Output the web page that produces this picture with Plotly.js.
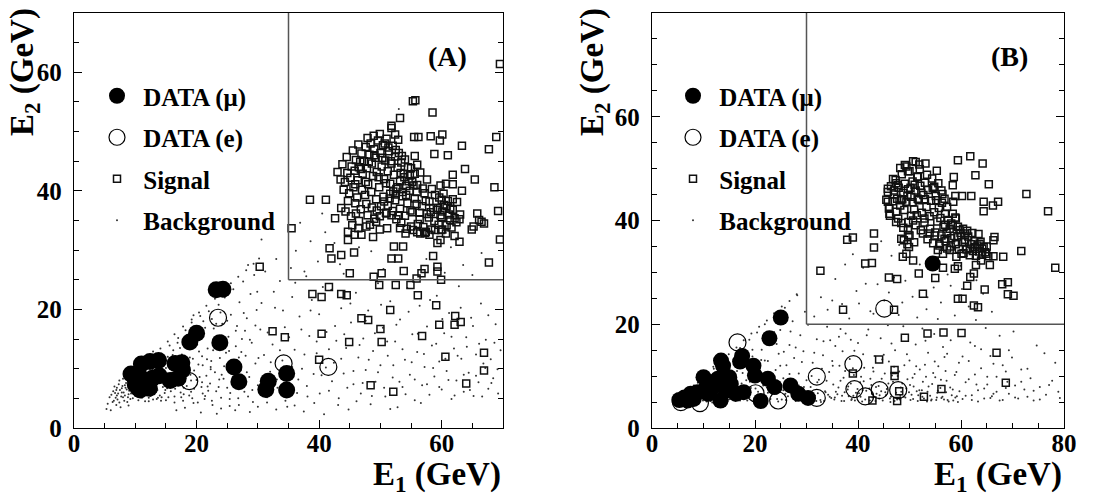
<!DOCTYPE html>
<html>
<head>
<meta charset="utf-8">
<script src="https://cdn.plot.ly/plotly-3.0.1.min.js"></script>
<style>html,body{margin:0;padding:0;background:#fff;}#chart{width:1104px;height:499px;}</style>
</head>
<body>
<div id="chart"></div>
<script>
// ---------------- Panel A data ----------------
const muA_x = [23.2,24.3,20.0,18.9,23.8,26.1,26.9,31.3,31.7,34.7,34.7,11.0,12.4,13.8,9.3,10.0,10.5,10.8,12.3,12.8,13.9,15.7,16.5,17.6,17.7,17.0,10.8,10.0,11.3];
const muA_y = [23.3,23.4,16.0,14.5,14.4,10.3,7.8,6.5,7.9,9.2,6.4,10.8,11.2,11.4,9.1,8.1,6.7,6.4,6.7,8.4,8.8,8.0,10.9,11.0,9.8,8.4,8.6,7.3,7.5];
const eA_x = [23.5,18.8,34.2,41.5];
const eA_y = [18.6,7.9,10.9,10.3];
const sigA_pts = [[35.5,33.7],[38.5,38.5],[41.1,38.5],[41.7,30.3],[42.0,28.6],[42.6,35.4],[43.6,29.2],[45.0,26.1],[45.7,29.6],[44.7,33.1],[48.9,25.5],[50.2,26.1],[49.8,24.1],[52.5,24.1],[54.9,24.1],[51.8,28.6],[52.9,28.6],[52.2,30.6],[53.7,30.6],[53.8,26.5],[55.9,25.2],[56.7,26.1],[57.2,26.8],[59.3,27.2],[59.3,26.4],[59.9,25.0],[56.1,22.4],[59.1,20.7],[59.6,17.4],[56.8,15.5],[50.2,14.5],[50.0,16.7],[51.6,19.9],[48.0,18.2],[46.9,18.5],[44.9,14.5],[44.5,22.4],[43.6,22.6],[41.6,23.8],[40.4,22.1],[38.9,22.6],[40.4,15.9],[34.4,15.3],[32.4,16.3],[30.3,27.2],[40.0,11.5],[48.4,7.2],[52.1,6.1],[60.6,12.0],[62.1,17.4],[62.2,18.9],[63.1,17.9],[64.0,7.5],[66.9,12.7],[66.9,9.7],[69.5,61.4],[58.5,53.2],[55.3,55.1],[55.7,55.3],[53.2,52.3],[51.8,51.0],[51.8,50.6],[52.4,49.5],[55.5,49.1],[56.2,49.1],[58.2,49.2],[59.7,48.5],[60.1,49.5],[63.3,47.6],[61.0,46.0],[58.8,46.2],[55.6,45.9],[68.9,49.1],[67.7,47.0],[65.4,41.9],[63.8,43.7],[61.8,42.7],[61.8,41.1],[60.7,41.2],[68.6,40.6],[63.3,40.0],[69.2,36.6],[69.5,31.8],[67.7,27.9],[65.8,36.2],[66.1,35.1],[64.9,33.5],[65.2,34.0],[66.5,34.8],[66.9,34.5],[62.9,31.4],[62.1,32.4],[62.9,35.2],[62.1,35.4],[62.5,38.1],[61.8,38.6],[61.4,37.0],[60.0,38.5],[60.8,37.4],[59.4,37.1],[59.8,35.9],[59.8,31.7],[59.3,31.2],[58.6,29.0],[58.0,32.6],[58.9,33.4],[60.1,33.5],[60.7,32.8],[56.5,32.8],[57.4,33.1],[55.3,33.4],[54.1,32.8],[53.2,33.7],[51.1,33.7],[49.9,33.5],[48.8,32.2],[46.9,32.6],[45.8,32.6],[44.7,31.7],[46.4,33.7],[47.7,34.0],[49.3,34.8],[51.0,36.2],[49.9,35.7],
[44.2,41.5],[44.6,43.0],[45.1,42.2],[45.3,44.1],[45.8,43.4],[46.0,45.2],[46.3,41.8],[46.5,44.0],[46.9,46.3],[47.1,42.9],[47.3,45.0],[47.6,47.4],[47.8,43.8],[48.0,41.1],[48.2,46.1],[48.4,48.0],[48.6,44.6],[48.8,42.5],[49.0,47.0],[49.2,45.6],[49.4,43.2],[49.6,48.5],[49.8,40.6],[50.0,46.4],[50.2,44.1],[50.4,47.7],[50.6,42.0],[50.8,45.1],[51.0,48.8],[51.2,43.3],[51.4,46.7],[51.6,41.2],[51.8,44.6],[52.0,47.6],[52.2,42.7],[52.4,45.8],[52.6,40.3],[52.8,43.9],[53.0,46.4],[53.2,41.6],[53.4,44.8],[53.6,39.8],[53.8,42.9],[54.0,45.3],[54.2,40.8],[47.0,40.2],[45.6,40.6],[44.9,39.6],[46.2,38.9],[47.5,39.3],[48.5,39.8],[49.3,38.6],[50.5,39.0],[51.5,38.7],[44.0,40.2],[43.5,41.9],[43.0,43.2],[43.8,44.5],[44.5,45.7],[45.5,46.8],[46.4,47.8],[47.9,48.9],[48.9,49.3],[49.9,49.6],[50.7,48.0],[51.3,47.3],[52.5,46.9],[53.5,45.9],[54.5,44.0],[54.8,42.6],[55.2,41.5],[55.0,43.8],[55.6,42.9],[56.0,44.4],[56.5,43.1],[46.8,43.7],[48.1,44.9],[49.7,42.3],[50.9,41.3],[52.1,39.9],[47.6,41.5],[45.9,41.1],[46.7,44.9],[49.0,46.0],[50.3,45.6],[51.7,45.0],[53.3,43.0],[52.9,48.6],[44.7,38.3],[45.9,37.9],
[51.2,37.5],[51.6,39.5],[52.0,36.6],[52.4,38.4],[52.8,40.6],[53.2,37.0],[53.6,39.1],[54.0,35.8],[54.4,37.9],[54.8,40.0],[55.2,36.4],[55.6,38.7],[56.0,41.0],[56.4,35.2],[56.8,37.4],[57.2,39.6],[57.6,36.1],[58.0,38.2],[58.4,40.3],[58.8,34.9],[59.2,36.8],[59.6,38.9],[60.0,35.6],[60.4,37.6],[60.8,34.2],[61.2,36.0],[61.6,33.8],[57.0,33.9],[56.1,34.4],[55.0,34.0],[54.3,33.6],[53.4,34.6],[52.6,35.2],[51.8,35.9],[50.9,36.3],[50.1,37.4],[49.4,36.7],[48.6,37.2],[47.7,37.8],[46.8,36.9],[46.0,36.2],[45.2,35.7],[44.3,36.5],[43.6,37.1],[57.9,35.5],[58.6,37.1],[59.5,34.3],[60.3,39.5],[61.0,38.3],[55.9,39.8],[54.6,41.6],[53.9,42.3],[55.4,40.9],[56.9,40.4],[57.6,41.9],[58.9,39.3],[59.8,40.9],[53.0,35.9],[54.9,36.7],[56.4,36.3],[58.2,36.4],[60.1,36.5],[57.4,38.3],[55.9,37.8],[54.2,39.3],[52.5,39.4],[50.6,38.2],[49.0,35.3],[47.9,35.9],[48.3,34.3],[46.5,34.9],[45.4,34.2],[61.8,36.8],[62.4,34.7],[63.0,36.0],[61.4,35.1],[59.9,33.4],[58.3,33.5],[57.3,32.9],[56.0,33.0]];
const bgA_pts = [[6.1,5.6],[6.4,6.2],[6.8,5.1],[7.0,6.8],[7.2,5.8],[7.5,6.4],[7.7,5.3],[7.9,7.1],[8.1,6.0],[8.3,5.5],[8.5,7.6],[8.6,6.5],[8.8,5.2],[9.0,8.0],[9.1,6.9],[9.3,5.8],[9.5,7.4],[9.6,6.1],[9.8,8.6],[10.0,5.4],[10.1,7.0],[10.3,9.1],[10.4,6.3],[10.6,5.6],[10.8,8.1],[10.9,7.3],[11.1,5.1],[11.2,9.6],[11.4,6.6],[11.5,8.4],[11.7,5.9],[11.9,7.7],[12.0,10.2],[12.2,6.2],[12.3,8.9],[12.5,5.4],[12.7,7.2],[12.8,9.8],[13.0,6.8],[13.1,5.7],[13.3,8.2],[13.5,10.7],[13.6,6.4],[13.8,9.2],[14.0,5.5],[14.1,7.6],[14.3,11.3],[14.5,6.9],[14.6,8.8],[14.8,5.9],[15.0,10.1],[15.1,7.3],[15.3,12.0],[6.6,7.0],[7.3,7.4],[8.0,8.3],[8.7,8.9],[9.4,9.6],[10.2,10.4],[11.0,11.0],[11.8,11.5],[12.6,12.1],[7.1,4.8],[8.2,4.6],[9.2,4.9],[10.5,4.7],[11.6,4.5],[12.9,4.8],[14.2,4.6],[6.3,4.4],[5.8,5.2],[5.5,4.1],[6.9,3.9],[5.3,3.2],[6.0,3.0],[7.6,3.5],[8.9,3.8],[7.4,8.0],[8.4,6.8],[9.7,7.8],[10.7,6.9],[11.3,7.9],[12.1,6.9],[13.4,7.8],[14.4,9.6],[6.7,5.9],[7.8,6.0],[8.9,5.7],[9.9,6.5],[11.0,6.0],[12.4,5.8],[13.7,5.1],[14.9,6.4],[15.4,5.2],[7.0,5.5],[8.0,5.2],[9.0,6.3],[10.0,6.0],[10.9,5.2],[11.9,5.5],[12.8,6.0],[14.7,7.9],[15.5,8.6],[13.2,11.5],[12.4,9.4],[11.6,10.4],[10.6,9.6],[9.9,9.0],
[15.8,6.2],[16.0,9.3],[16.2,13.1],[16.4,5.3],[16.6,11.0],[16.8,7.5],[17.0,15.2],[17.2,8.6],[17.4,6.0],[17.6,12.4],[17.8,4.6],[18.0,10.2],[18.2,16.5],[18.4,7.1],[18.6,13.6],[18.8,5.5],[19.0,9.0],[19.2,17.8],[19.4,11.7],[19.6,6.6],[19.8,14.8],[20.0,8.1],[20.2,4.3],[20.4,12.9],[20.6,18.9],[20.8,6.9],[21.0,10.6],[21.2,15.9],[21.4,5.4],[21.6,8.8],[21.8,13.4],[22.0,19.7],[22.2,7.5],[22.4,11.3],[22.6,3.9],[22.8,16.8],[23.0,9.4],[23.2,6.2],[23.4,14.0],[23.6,20.8],[23.8,11.8],[24.0,5.1],[24.2,17.6],[24.4,8.3],[24.6,22.0],[24.8,12.7],[25.0,6.8],[25.2,15.4],[25.4,3.7],[25.6,19.1],[25.8,10.1],[26.0,23.4],[26.2,7.4],[26.4,13.8],[26.6,17.2],[26.8,5.0],[27.0,21.2],[27.2,9.7],[27.4,15.0],[27.6,24.7],[27.8,6.1],[28.0,12.2],[28.2,18.5],[28.4,27.5],[28.6,8.6],[28.8,22.6],[29.0,14.4],[29.2,4.4],[29.4,25.8],[29.6,10.9],[29.8,19.9],[30.0,7.2],[30.2,28.6],[15.6,13.9],[16.9,14.4],[18.3,15.0],[19.7,16.6],[21.1,18.0],[22.5,18.4],[23.9,19.5],[17.3,10.0],[18.9,11.9],[20.3,10.7],[21.7,11.6],[19.1,8.0],[20.9,7.7],[22.3,9.9],[23.7,8.2],[17.9,6.8],[16.3,7.9],[15.9,10.6],[17.5,5.2],[19.3,5.0],[21.3,4.9],[18.1,3.4],[16.7,3.0],[20.7,2.6],[23.3,2.4],[26.3,3.0],[28.7,2.7],[24.5,10.4],[25.3,13.0],[26.9,11.9],[27.9,16.4],[25.9,8.6],[24.1,15.6],[22.7,14.5],[21.9,6.3],[20.1,14.1],[19.5,19.0],[30.6,31.8],[31.2,26.4],[29.9,23.0],[30.4,16.6],[31.0,12.3],
[31.5,5.2],[32.0,9.5],[32.4,14.1],[32.8,20.3],[33.2,6.8],[33.6,24.8],[34.0,11.4],[34.4,17.0],[34.8,3.6],[35.2,8.3],[35.6,22.1],[36.0,13.2],[36.4,5.9],[36.8,18.8],[37.2,10.0],[37.6,26.4],[38.0,7.1],[38.4,15.5],[38.8,21.6],[39.2,4.2],[39.6,12.6],[40.0,19.2],[40.4,8.9],[40.8,2.3],[41.2,16.2],[41.6,6.3],[42.0,23.3],[42.4,11.0],[42.8,14.7],[43.2,5.0],[43.6,20.2],[44.0,9.2],[44.4,13.5],[44.8,3.1],[45.2,17.8],[45.6,7.4],[46.0,22.8],[46.4,11.9],[46.8,5.8],[47.2,15.1],[47.6,9.8],[48.0,19.8],[48.4,4.0],[48.8,13.0],[49.2,7.8],[49.6,24.4],[50.0,10.6],[50.4,16.9],[50.8,5.3],[51.2,12.2],[51.6,21.4],[52.0,8.5],[52.4,14.6],[52.8,3.5],[53.2,18.3],[53.6,6.9],[54.0,11.5],[54.4,23.6],[54.8,9.0],[55.2,15.8],[55.6,4.7],[56.0,12.8],[56.4,20.6],[56.8,7.2],[57.2,10.3],[57.6,17.1],[58.0,5.6],[58.4,13.9],[58.8,8.7],[59.2,22.3],[59.6,11.2],[60.0,6.5],[60.4,16.0],[60.8,9.6],[61.2,19.4],[61.6,4.9],[62.0,13.4],[62.4,8.0],[62.8,23.9],[63.2,11.7],[63.6,6.1],[64.0,15.3],[64.4,9.3],[64.8,18.6],[65.2,5.4],[65.6,12.4],[66.0,7.7],[66.4,21.0],[66.8,10.9],[67.2,14.9],[67.6,6.6],[68.0,11.6],[68.4,8.4],[68.8,17.5],[69.2,5.8],[69.6,13.1],[33.0,28.5],[36.2,29.9],[38.6,31.5],[41.0,33.0],[43.4,27.6],[36.9,34.6],[39.8,28.1],[35.4,27.0],[37.9,25.6],[40.5,36.2],[42.5,31.2],[44.0,26.0],[46.5,30.5],[53.0,53.8],[50.5,26.8],[48.5,29.8],[57.5,28.5],[61.5,30.5],[63.5,27.5],[66.5,29.5],[65.0,25.8],[60.5,26.2]];
const bgA_more = [[6.5,4.6],[6.9,6.4],[7.4,4.3],[7.8,6.7],[8.3,7.2],[8.7,4.4],[9.2,7.1],[9.6,5.0],[10.1,8.2],[10.5,5.3],[10.9,9.1],[11.3,6.3],[11.8,8.8],[12.2,5.1],[12.6,10.6],[13.0,8.8],[13.4,6.1],[13.9,10.3],[14.3,5.2],[14.7,11.8],[15.2,6.7],[15.6,9.0],[16.1,12.3],[16.5,6.6],[16.9,9.9],[17.3,13.5],[17.8,7.9],[18.2,11.1],[18.7,14.3],[19.1,6.1],[19.6,9.7],[20.0,15.5],[20.5,8.6],[20.9,12.1],[21.4,16.9],[21.8,7.0],[22.3,10.3],[22.7,13.1],[23.2,17.6],[23.6,6.9],[24.1,9.0],[24.5,13.8],[25.0,18.1],[25.5,5.9],[25.9,11.3],[26.4,16.4],[26.8,7.9],[27.3,12.8],[27.7,19.4],[28.2,9.4],[28.7,14.9],[29.1,6.4],[29.6,17.3],[30.1,11.8],[30.6,21.1],[31.1,7.6],[31.6,16.1],[32.1,11.1],[32.6,23.0],[33.1,8.2],[33.6,13.1],[34.1,19.8],[34.6,6.2],[35.1,15.3],[35.6,10.3],[36.1,24.5],[36.6,8.2],[37.1,16.6],[37.6,12.4],[38.1,5.3],[38.6,19.8],[39.1,9.1],[39.6,14.6],[40.1,5.8],[40.6,23.8],[41.1,10.2],[41.6,13.3],[42.1,7.9],[42.6,17.2],[43.1,3.9],[43.6,11.7],[44.1,15.8],[44.6,6.8],[45.1,21.0],[45.6,9.6],[46.1,4.5],[46.6,14.0],[47.1,7.6],[47.6,18.1],[48.1,11.5],[48.6,5.4],[49.1,16.0],[49.6,9.4],[50.1,20.8],[50.6,6.8],[51.1,14.6],[51.6,3.2],[52.1,10.6],[52.6,17.4],[53.1,7.8],[53.6,13.3],[54.1,5.7],[54.6,19.6],[55.1,11.1],[55.6,8.2],[56.1,15.9],[56.6,4.2],[57.1,12.5],[57.6,7.4],[58.1,21.6],[58.6,10.1],[59.1,14.2],[59.6,6.9],[60.1,18.4],[60.6,11.7],[61.1,8.1],[61.6,15.4],[62.1,5.5],[62.6,12.2],[63.1,20.3],[63.6,9.0],[64.1,13.7],[64.6,6.4],[65.1,17.2],[65.6,8.8],[66.1,14.2],[66.6,5.3],[67.1,10.1],[67.6,19.0],[68.1,7.6],[68.6,14.4],[69.1,9.9],[12.2,4.5],[13.5,4.9],[15.0,4.7],[16.4,4.3],[17.9,5.7],[19.5,4.2],[21.0,5.8],[22.5,4.6],[24.0,3.3],[25.4,4.9],[26.9,3.9],[28.4,5.3],[30.0,3.6],[31.5,4.3],[33.0,3.1],[34.5,4.6],[36.0,3.8],[37.5,2.8],[9.3,10.0],[10.1,10.9],[11.3,11.9],[12.9,12.9],[14.1,13.4],[15.3,14.6],[16.4,15.8],[17.8,17.1],[19.2,18.3],[20.4,19.5],[21.6,20.6],[23.0,21.8],[24.3,23.1],[25.6,24.4],[26.8,25.5],[28.1,26.6],[29.3,27.7]];

// ---------------- Panel B data ----------------
const muB_x = [25.0,22.8,17.5,17.1,13.4,13.8,19.7,20.0,10.0,12.8,15.0,15.3,22.5,23.8,26.9,28.4,30.3,21.1,13.3,16.3,17.8,14.4,11.9,10.3,8.8,7.5,6.3,5.3,6.9,8.1,10.9,54.5];
const muB_y = [21.3,17.3,13.9,12.8,13.0,12.0,12.0,10.1,9.8,9.5,9.8,8.5,9.5,7.9,8.2,6.6,5.8,5.2,5.3,6.6,6.9,7.2,7.9,7.5,6.9,6.6,5.9,5.4,5.3,5.6,6.6,31.7];
const eB_x = [16.6,32.0,39.1,39.3,41.4,44.2,47.8,32.0,24.5,20.1,45.1,9.3,5.6];
const eB_y = [16.5,9.9,12.3,7.5,6.1,7.3,7.3,5.8,5.3,6.7,23.0,4.8,5.0];
const sigB_pts = [[32.7,30.3],[37.1,22.8],[37.9,36.3],[39.0,36.7],[43.1,37.5],[43.1,34.8],[41.4,31.7],[42.7,31.8],[46.0,29.0],[47.6,28.7],[47.0,22.8],[49.1,17.4],[53.5,18.2],[56.6,18.4],[60.1,18.3],[66.9,14.5],[68.7,8.7],[47.1,11.2],[47.1,10.0],[44.1,13.2],[39.0,10.5],[56.2,7.5],[52.8,6.0],[47.6,5.2],[42.8,5.3],[48.0,7.1],[52.6,25.9],[55.0,28.9],[51.8,29.8],[59.4,24.9],[60.3,24.9],[61.2,27.4],[62.5,29.8],[61.8,29.1],[62.5,23.6],[63.3,23.3],[64.6,26.7],[68.0,27.7],[69.1,28.1],[69.1,25.8],[70.2,25.5],[71.7,34.1],[72.7,45.1],[76.9,41.8],[78.3,30.9],[61.8,52.4],[59.4,51.6],[64.2,51.0],[62.8,48.7],[65.4,47.0],[58.6,48.4],[58.4,46.8],[58.9,44.7],[60.2,44.7],[62.0,44.7],[64.4,43.6],[64.4,41.8],[66.2,42.9],[67.2,43.6],[66.3,36.2],[66.5,36.8],[68.2,33.0],[65.3,33.1],[66.3,33.1],[63.9,32.3],[62.9,31.4],[65.6,31.4],[59.4,31.2],[58.8,30.7],[56.5,30.9],[54.9,32.3],
[51.2,51.3],[53.1,51.0],[49.4,50.4],[45.8,46.1],[45.8,43.6],[46.0,42.3],[46.1,41.3],[47.0,45.8],[47.4,47.2],[49.7,49.5],[51.6,48.5],[54.8,46.5],[55.2,43.9],[56.4,45.1],[56.8,44.2],[57.3,42.6],[58.5,43.6],[58.4,41.3],[59.0,40.4],[58.1,39.4],[59.7,38.1],[60.7,37.5],[60.7,35.9],[61.7,34.6],[62.7,34.9],[63.6,35.5],[64.1,34.6],[64.9,33.6],[60.1,33.6],[59.1,33.0],[57.8,34.3],[56.5,33.6],[55.5,34.3],[55.8,35.5],[56.8,36.5],[54.9,37.1],[53.9,37.5],[52.6,37.5],[52.9,40.4],[50.7,40.0],[49.8,39.7],[49.7,38.1],[50.0,37.1],[49.9,34.9],[48.7,33.0],[49.4,33.6],[48.9,36.2],[50.7,32.3],[48.4,39.5],[47.4,39.7],[48.4,43.9],
[45.5,44.0],[45.8,45.5],[46.1,42.4],[46.4,46.6],[46.7,43.7],[47.0,45.0],[47.3,47.8],[47.6,44.2],[47.9,46.3],[48.2,42.9],[48.5,48.9],[48.8,45.3],[49.1,47.1],[49.4,43.6],[49.7,46.0],[50.0,49.5],[50.3,44.6],[50.6,47.5],[50.9,42.1],[51.2,45.8],[51.5,48.4],[51.8,43.9],[52.1,46.7],[52.4,41.5],[52.7,44.9],[53.0,47.3],[53.3,42.6],[53.6,45.9],[53.9,40.8],[54.2,43.8],[54.5,46.2],[54.8,41.6],[55.1,44.7],[55.4,39.8],[55.7,42.4],[56.0,40.5],[56.3,43.4],[56.6,38.8],[56.9,41.3],[57.2,37.6],[57.5,40.1],[57.8,38.4],[58.1,36.6],[58.4,39.1],[58.7,37.0],[59.0,35.4],[59.3,36.9],[59.6,34.5],[59.9,37.6],[60.2,35.8],[60.5,33.7],[60.8,36.3],[61.1,34.4],[61.4,36.9],[61.7,33.3],[62.0,35.4],[62.3,34.1],[62.6,36.0],[62.9,33.2],[63.2,35.2],[63.5,34.0],[63.8,35.9],[64.1,33.4],[64.4,34.9],[64.7,33.9],[65.0,35.0],[50.2,46.3],[49.6,44.8],[51.0,46.9],[51.6,44.2],[52.3,45.3],[53.0,44.1],[48.6,44.1],[49.0,42.0],[50.6,43.5],[47.4,41.7],[46.2,40.9],[47.8,40.4],[51.4,41.0],[52.9,39.6],[54.0,38.4],[55.0,37.7],[56.2,37.1],[57.0,36.0],[58.0,35.0],[53.5,36.4],[52.2,38.1],[54.6,35.6],[55.8,35.2],[57.3,34.6],[56.9,39.2],[58.9,40.6],[59.4,38.8],[60.4,38.4],[61.2,38.0],[62.2,37.6],[63.4,37.4],[51.2,39.1],[50.3,40.9],[49.8,37.2],[48.8,38.6],[50.9,35.8],[49.6,35.4],[48.4,36.5],[47.7,46.8],[46.8,48.0],[48.2,50.1],[49.1,50.7],[52.0,49.9],[53.4,48.8],[54.4,48.1],[55.6,47.2],[56.2,45.8],[55.3,49.6],[51.9,50.8],[50.7,51.4]];
const bgB_pts = [[5.4,4.9],[5.8,5.6],[6.1,4.7],[6.4,6.3],[6.7,5.2],[7.0,7.0],[7.3,5.9],[7.6,4.8],[7.9,6.6],[8.2,5.4],[8.5,7.8],[8.8,6.1],[9.1,4.9],[9.4,8.4],[9.7,5.7],[10.0,7.1],[10.3,9.3],[10.6,5.1],[10.9,6.6],[11.2,8.0],[11.5,10.2],[11.8,5.5],[12.1,7.4],[12.4,9.0],[12.7,6.0],[13.0,11.1],[13.3,4.8],[13.6,8.3],[13.9,6.7],[14.2,10.0],[14.5,5.3],[14.8,12.1],[6.9,6.0],[7.7,7.5],[8.4,5.0],[9.0,6.9],[9.9,5.3],[10.4,6.2],[11.0,7.3],[11.7,6.4],[12.3,5.0],[12.9,7.9],[13.5,5.7],[14.0,7.0],[14.7,8.6],[8.1,8.2],[9.6,9.1],[10.8,10.4],[12.0,11.4],[6.2,5.3],[7.1,5.1],[8.0,5.9],[9.3,5.5],[10.2,5.8],[11.4,5.2],[12.6,5.6],[13.8,5.2],[14.9,5.5],
[15.3,6.1],[15.6,9.4],[15.9,13.2],[16.2,5.2],[16.5,11.0],[16.8,7.3],[17.1,15.4],[17.4,8.6],[17.7,5.6],[18.0,12.5],[18.3,6.8],[18.6,10.1],[18.9,17.0],[19.2,7.7],[19.5,13.8],[19.8,5.3],[20.1,9.3],[20.4,18.4],[20.7,11.7],[21.0,6.3],[21.3,15.1],[21.6,8.2],[21.9,20.0],[22.2,5.0],[22.5,12.9],[22.8,9.8],[23.1,16.7],[23.4,6.6],[23.7,21.4],[24.0,11.2],[24.3,7.4],[24.6,14.3],[24.9,18.9],[25.2,5.5],[25.5,9.6],[25.8,23.2],[26.1,12.1],[26.4,6.1],[26.7,16.0],[27.0,8.5],[27.3,20.6],[27.6,13.5],[27.9,5.2],[28.2,25.6],[28.5,10.5],[28.8,17.9],[29.1,7.0],[29.4,14.8],[29.7,22.4],[30.0,9.2],[16.1,7.9],[17.6,10.6],[19.0,8.9],[20.6,7.0],[22.0,10.6],[23.5,8.4],[25.0,7.8],[26.5,9.2],[28.0,7.6],[29.5,6.0],[17.0,6.0],[18.5,5.3],[20.0,5.7],[21.5,5.4],[23.0,5.6],[24.5,5.1],[26.0,5.4],[27.5,6.4],[29.0,5.5],[21.2,13.1],[24.2,16.2],[26.9,18.6],[19.4,11.2],[22.6,17.7],[25.6,14.7],
[30.4,5.3],[30.8,7.9],[31.2,12.6],[31.6,6.2],[32.0,17.1],[32.4,9.3],[32.8,5.0],[33.2,14.0],[33.6,7.1],[34.0,19.5],[34.4,10.8],[34.8,5.8],[35.2,8.4],[35.6,15.8],[36.0,6.5],[36.4,12.0],[36.8,5.2],[37.2,9.7],[37.6,18.2],[38.0,7.4],[38.4,13.3],[38.8,5.6],[39.2,10.2],[39.6,6.8],[40.0,16.4],[40.4,8.8],[40.8,5.1],[41.2,11.6],[41.6,7.2],[42.0,19.0],[42.4,9.5],[42.8,5.9],[43.2,13.9],[43.6,6.6],[44.0,8.1],[44.4,17.3],[44.8,5.3],[45.2,10.5],[45.6,7.5],[46.0,12.8],[46.4,6.0],[46.8,8.9],[47.2,15.0],[47.6,5.5],[48.0,10.9],[48.4,7.0],[48.8,19.6],[49.2,5.9],[49.6,9.4],[50.0,13.0],[50.4,6.4],[50.8,8.0],[51.2,16.1],[51.6,5.2],[52.0,11.3],[52.4,7.3],[52.8,5.7],[53.2,9.9],[53.6,14.5],[54.0,6.2],[54.4,8.5],[54.8,18.1],[55.2,5.4],[55.6,11.9],[56.0,7.7],[56.4,6.0],[56.8,13.7],[57.2,9.1],[57.6,5.1],[58.0,16.9],[58.4,7.4],[58.8,10.2],[59.2,6.1],[59.6,12.6],[31.0,10.0],[33.0,11.4],[35.0,12.9],[37.0,14.8],[39.0,11.5],[41.0,14.2],[43.0,10.9],[45.0,14.1],[47.0,11.8],[49.0,12.1],[51.0,10.4],[53.0,12.2],[55.0,9.8],[57.0,11.0],[32.2,6.7],[34.2,6.4],[36.2,7.8],[38.2,6.1],[40.2,6.7],[42.2,7.6],[44.2,6.3],[46.2,5.7],[48.2,6.2],[50.2,5.4],[52.2,6.6],[54.2,5.3],[56.2,5.8],[58.2,6.3],[31.4,5.6],[33.4,5.2],[35.4,5.5],[37.4,6.9],[39.4,5.3],[41.4,5.5],[43.4,5.2],[45.4,6.3],[47.4,6.8],[49.4,7.6],[51.4,7.1],[53.4,5.1],[55.4,6.8],[57.4,5.4],[59.4,5.0],[36.6,9.1],[38.6,8.6],[40.6,9.9],[42.6,8.3],[44.6,9.5],[46.6,10.1],[48.6,8.6],[50.6,9.7],[52.6,8.9],[54.6,10.6],[34.6,16.9],[36.6,19.1],[38.6,17.0],[45.8,19.8],[52.5,19.2],[56.5,15.6],
[60.3,5.6],[60.9,8.8],[61.5,12.9],[62.1,6.3],[62.7,10.3],[63.3,5.1],[63.9,15.2],[64.5,7.6],[65.1,9.9],[65.7,5.8],[66.3,12.4],[66.9,7.0],[67.5,17.8],[68.1,5.4],[68.7,10.9],[69.3,6.6],[69.9,13.6],[70.5,8.2],[71.1,5.7],[71.7,11.3],[72.3,7.4],[72.9,6.0],[73.5,9.6],[74.1,5.3],[74.7,15.9],[75.3,7.9],[76.5,6.4],[77.7,9.1],[78.9,7.0],[61.8,16.5],[64.8,19.3],[70.2,18.6],[76.2,14.4],[63.0,8.4],[66.0,6.1],[69.0,8.9],
[31.5,21.5],[32.8,25.2],[34.1,22.8],[35.6,28.7],[36.9,23.9],[38.3,21.1],[39.7,26.4],[41.0,30.9],[42.4,22.5],[43.8,27.7],[45.1,24.6],[46.5,33.2],[47.9,21.8],[49.2,28.4],[50.6,25.3],[52.0,31.5],[53.3,22.9],[54.7,27.1],[56.1,24.2],[57.4,29.6],[58.8,21.7],[60.2,26.8],[61.5,23.4],[62.9,20.8],[64.3,25.9],[44.5,36.0],[47.0,29.0],[40.2,24.0],[37.5,31.5],[55.5,21.0],[51.5,21.3],[59.9,31.3],[66.0,22.4],[43.0,22.0],[48.6,24.2]];
const bgB_more = [[5.9,4.8],[6.6,6.7],[7.2,4.9],[7.9,5.3],[8.6,6.4],[9.2,5.2],[9.9,7.9],[10.5,5.6],[11.1,8.8],[11.7,4.9],[12.3,6.9],[12.9,9.6],[13.5,6.3],[14.1,8.0],[14.7,5.1],[15.3,10.8],[15.9,6.9],[16.5,8.4],[17.1,5.3],[17.7,12.7],[18.3,9.2],[18.9,5.9],[19.5,15.1],[20.1,7.6],[20.7,10.5],[21.3,5.2],[21.9,13.0],[22.5,6.8],[23.1,9.0],[23.7,18.5],[24.3,5.6],[24.9,12.0],[25.5,7.3],[26.1,20.8],[26.7,10.4],[27.3,6.0],[27.9,15.5],[28.5,8.2],[29.1,12.7],[29.7,5.1],[30.3,19.9],[30.9,6.8],[31.5,14.5],[32.1,8.8],[32.7,5.4],[33.3,16.7],[33.9,9.1],[34.5,6.0],[35.1,12.0],[35.7,7.0],[36.3,17.6],[36.9,6.2],[37.5,11.0],[38.1,8.0],[38.7,5.4],[39.3,14.9],[39.9,7.5],[40.5,6.0],[41.1,9.0],[41.7,17.9],[42.3,5.3],[42.9,11.6],[43.5,7.9],[44.1,5.7],[44.7,13.2],[45.3,6.9],[45.9,8.6],[46.5,16.3],[47.1,5.2],[47.7,10.0],[48.3,7.8],[48.9,6.0],[49.5,14.2],[50.1,8.3],[50.7,5.6],[51.3,11.9],[51.9,7.3],[52.5,6.0],[53.1,16.8],[53.7,8.0],[54.3,5.5],[54.9,12.8],[55.5,7.2],[56.1,9.3],[56.7,5.5],[57.3,14.3],[57.9,7.8],[58.5,5.3],[59.1,10.8],[59.7,7.1],[60.3,13.8],[60.9,6.2],[61.5,9.4],[62.1,5.4],[62.7,15.8],[63.3,7.3],[63.9,11.5],[64.5,5.7],[65.1,8.4],[65.7,13.9],[66.3,6.6],[66.9,9.9],[67.5,5.3],[68.1,12.1],[68.7,7.7],[69.3,15.0],[70.5,5.9],[71.7,8.9],[72.9,11.4],[74.1,7.2],[75.3,5.5],[77.1,8.3],[78.3,12.6],[79.2,5.8],[31.9,5.2],[33.7,6.9],[35.5,5.9],[37.3,5.2],[39.1,6.2],[40.9,7.3],[42.7,6.6],[44.5,7.1],[46.3,5.0],[48.1,5.5],[49.9,6.9],[51.7,6.3],[53.5,7.0],[55.3,5.9],[57.1,6.9],[58.9,5.9],[11.3,5.9],[13.1,5.6],[15.1,5.6],[16.9,6.6],[18.7,7.4],[20.5,6.4],[22.3,7.8],[24.1,6.6],[25.9,6.6],[27.7,5.6],[29.5,7.9],[7.5,7.3],[8.9,8.7],[10.5,10.0],[11.9,11.8],[13.4,12.8],[14.9,14.2],[16.4,15.5],[17.8,16.9],[19.3,18.2],[20.8,19.5],[22.3,20.7],[23.7,22.1],[25.2,23.4],[26.7,24.5],[28.1,25.8],[35.0,24.6],[41.5,27.8],[46.0,26.1],[53.5,25.2],[58.0,27.4],[63.0,28.5],[39.0,33.5],[48.0,35.3]];

// cut boxes (signal region boundaries)
const cutA = {x: 35, y: 25};
const cutB = {x: 30, y: 20};
const legendNames = ["DATA (\u03bc)", "DATA (e)", "Signal", "Background"];
const tickA = [0, 20, 40, 60];
const tickB = [0, 20, 40, 60, 80];

// ---------------- build ----------------
const FONT = "Liberation Serif, Times New Roman, serif";
const W = 1104, H = 499;
const px = v => v / W, py = v => 1 - v / H;
const xs = p => p.map(a => a[0]), ys = p => p.map(a => a[1]);
const bold = s => '<b>' + s + '</b>';

function traces(ax, ay, leg, mu_x, mu_y, e_x, e_y, sig, bg, muSize, eSize) {
  const sp = "\u00a0";
  return [
    {type:'scatter', mode:'markers', x: xs(bg), y: ys(bg), xaxis: ax, yaxis: ay, legend: leg, legendgroup: leg+'d', legendrank: 4,
     name: sp+bold(legendNames[3]), marker:{symbol:'circle', size:2, color:'#333', line:{width:0}}},
    {type:'scatter', mode:'markers', x: xs(sig), y: ys(sig), xaxis: ax, yaxis: ay, legend: leg, legendgroup: leg+'c', legendrank: 3,
     name: sp+bold(legendNames[2]), marker:{symbol:'square-open', size:7, color:'#111', line:{width:1.5}}},
    {type:'scatter', mode:'markers', x: e_x, y: e_y, xaxis: ax, yaxis: ay, legend: leg, legendgroup: leg+'b', legendrank: 2,
     name: sp+bold(legendNames[1]), marker:{symbol:'circle-open', size:eSize, color:'#000', line:{width:1.2}}},
    {type:'scatter', mode:'markers', x: mu_x, y: mu_y, xaxis: ax, yaxis: ay, legend: leg, legendgroup: leg+'a', legendrank: 1,
     name: sp+bold(legendNames[0]), marker:{symbol:'circle', size:muSize, color:'#000', line:{width:0}}}
  ];
}

const data = [
  ...traces('x','y','legend', muA_x, muA_y, eA_x, eA_y, sigA_pts, bgA_pts.concat(bgA_more), 17, 17),
  ...traces('x2','y2','legend2', muB_x, muB_y, eB_x, eB_y, sigB_pts, bgB_pts.concat(bgB_more), 16, 17)
];

function axis(dom, range, anchor, isY, ticks) {
  return {
    domain: dom, range: range, anchor: anchor,
    tickmode: 'array', tickvals: ticks, ticktext: ticks.map(t => bold(t)),
    ticks: 'inside', ticklen: 8, tickwidth: 1, tickcolor: '#000',
    minor: {dtick: 5, tick0: 0, ticks: 'inside', ticklen: 5, tickwidth: 1, tickcolor: '#000'},
    showline: true, linecolor: '#000', linewidth: 1.2,
    mirror: isY ? 'ticks' : true,
    showgrid: false, zeroline: false,
    tickfont: {family: FONT, size: 25, color: '#000'},
    ticklabelstandoff: isY ? 6 : -7,
    fixedrange: true
  };
}

const yDom = [py(428), py(13)];
const LEGFONT = {family: FONT, size: 25, color:'#000'};
const layout = {
  width: W, height: H,
  margin: {l:0, r:0, t:0, b:0},
  font: {family: FONT, size: 25, color: '#000'},
  paper_bgcolor: '#fff', plot_bgcolor: 'rgba(0,0,0,0)',
  showlegend: true,
  xaxis: axis([px(74), px(503)], [0,70], 'y', false, tickA),
  yaxis: axis(yDom, [0,70], 'x', true, tickA),
  xaxis2: axis([px(652), px(1064)], [0,80], 'y2', false, tickB),
  yaxis2: axis(yDom, [0,80], 'x2', true, tickB),
  legend: {x: px(97), y: py(73), xanchor:'left', yanchor:'top', bgcolor:'rgba(0,0,0,0)', borderwidth:0,
           font: LEGFONT, tracegroupgap: 6, itemsizing:'trace', traceorder:'grouped'},
  legend2: {x: px(673), y: py(73), xanchor:'left', yanchor:'top', bgcolor:'rgba(0,0,0,0)', borderwidth:0,
           font: LEGFONT, tracegroupgap: 6, itemsizing:'trace', traceorder:'grouped'},
  shapes: [
    {type:'line', xref:'x', yref:'y', x0: cutA.x, x1: cutA.x, y0: cutA.y, y1: 70, line:{color:'#555', width:1.5}},
    {type:'line', xref:'x', yref:'y', x0: cutA.x, x1: 70, y0: cutA.y, y1: cutA.y, line:{color:'#555', width:1.5}},
    {type:'line', xref:'x2', yref:'y2', x0: cutB.x, x1: cutB.x, y0: cutB.y, y1: 80, line:{color:'#555', width:1.5}},
    {type:'line', xref:'x2', yref:'y2', x0: cutB.x, x1: 80, y0: cutB.y, y1: cutB.y, line:{color:'#555', width:1.5}}
  ],
  annotations: [
    {xref:'paper', yref:'paper', x: px(503), y: py(476), xanchor:'right', yanchor:'middle', showarrow:false,
     text: bold('E<sub>1</sub> (GeV)'), font:{family: FONT, size: 33, color:'#000'}},
    {xref:'paper', yref:'paper', x: px(24), y: py(6), xanchor:'center', yanchor:'top', showarrow:false, textangle:-90,
     text: bold('E<sub>2</sub> (GeV)'), font:{family: FONT, size: 33, color:'#000'}},
    {xref:'paper', yref:'paper', x: px(1064), y: py(476), xanchor:'right', yanchor:'middle', showarrow:false,
     text: bold('E<sub>1</sub> (GeV)'), font:{family: FONT, size: 33, color:'#000'}},
    {xref:'paper', yref:'paper', x: px(594), y: py(6), xanchor:'center', yanchor:'top', showarrow:false, textangle:-90,
     text: bold('E<sub>2</sub> (GeV)'), font:{family: FONT, size: 33, color:'#000'}},
    {xref:'paper', yref:'paper', x: px(447), y: py(56), xanchor:'center', yanchor:'middle', showarrow:false,
     text: bold('(A)'), font:{family: FONT, size: 28, color:'#000'}},
    {xref:'paper', yref:'paper', x: px(1009), y: py(56), xanchor:'center', yanchor:'middle', showarrow:false,
     text: bold('(B)'), font:{family: FONT, size: 28, color:'#000'}}
  ]
};

Plotly.newPlot('chart', data, layout, {displayModeBar:false, staticPlot:true});
</script>
</body>
</html>
